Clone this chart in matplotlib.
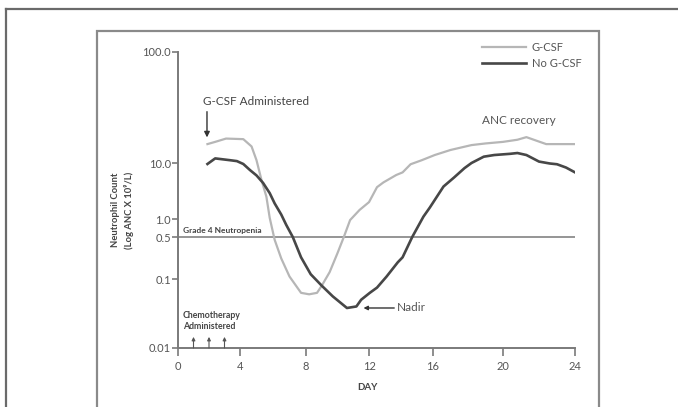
import numpy as np
import matplotlib
matplotlib.use("Agg")
import matplotlib.pyplot as plt
from matplotlib.patches import Rectangle
from matplotlib.lines import Line2D

plt.rcParams['font.family'] = ['Lato', 'DejaVu Sans']

# ---------------- data ----------------
gcsf_days = [1.9, 2.4, 3.1, 4.2, 4.7, 5.0, 5.3, 5.6, 5.8, 6.1, 6.5, 7.0, 7.7, 8.2, 8.7,
             9.0, 9.5, 10.0, 10.4, 10.8, 11.4, 12.0, 12.5, 12.9, 13.7, 14.1, 14.6, 15.3,
             16.1, 17.0, 18.2, 19.0, 20.0, 20.8, 21.3, 21.9, 22.4, 23.0, 24.0]
gcsf_anc = [14.8, 15.5, 16.6, 16.4, 14.1, 10.6, 5.0, 2.5, 1.05, 0.45, 0.22, 0.11, 0.063,
            0.06, 0.063, 0.08, 0.13, 0.27, 0.5, 0.96, 1.45, 2.0, 3.7, 4.5, 6.1, 6.8, 9.5,
            10.6, 11.8, 13.1, 14.5, 15.0, 15.5, 16.2, 17.1, 15.8, 14.8, 14.8, 14.8]

nogcsf_days = [1.9, 2.4, 3.35, 3.8, 4.2, 4.6, 5.0, 5.4, 5.8, 6.1, 6.5, 6.8, 7.2, 7.7, 8.3,
               9.0, 9.7, 10.6, 11.2, 11.5, 12.05, 12.5, 13.1, 13.8, 14.1, 14.7, 15.4, 15.8,
               16.6, 17.2, 17.8, 18.2, 18.9, 19.5, 20.4, 20.8, 21.3, 22.0, 22.6, 23.0, 23.5, 24.0]
nogcsf_anc = [9.6, 11.0, 10.6, 10.4, 9.6, 7.5, 6.0, 4.4, 2.9, 1.9, 1.2, 0.8, 0.5, 0.23, 0.12,
              0.08, 0.056, 0.038, 0.04, 0.05, 0.063, 0.075, 0.11, 0.19, 0.23, 0.5, 1.1, 1.6,
              3.8, 5.5, 8.1, 10.0, 11.4, 11.8, 12.1, 12.3, 11.8, 10.3, 9.8, 9.5, 8.3, 6.8]

series_labels = ['G-CSF', 'No G-CSF']
x_ticks = [0, 4, 8, 12, 16, 20, 24]
y_ticks = [0.01, 0.1, 0.5, 1.0, 10.0, 100.0]
y_ticklabels = ['0.01', '0.1', '0.5', '1.0', '10.0', '100.0']
grade4 = 0.5
chemo_days = [1, 2, 3]

# --------- irregular (hand-drawn) axis scales, piecewise linear ---------
X_BREAKS = np.array([0, 4, 8, 12, 16, 20, 24], float)
X_PIX = np.array([0, 62, 128, 191, 255, 325, 397], float)
Y_BREAKS = np.array([-2, -1, 0, 1, 2], float)
Y_PIX = np.array([0, 69, 129, 185, 296], float)


def pw(x, xp, fp):
    x = np.asarray(x, float)
    y = np.interp(x, xp, fp)
    lo = x < xp[0]
    hi = x > xp[-1]
    s0 = (fp[1] - fp[0]) / (xp[1] - xp[0])
    s1 = (fp[-1] - fp[-2]) / (xp[-1] - xp[-2])
    y = np.where(lo, fp[0] + (x - xp[0]) * s0, y)
    y = np.where(hi, fp[-1] + (x - xp[-1]) * s1, y)
    return y


def xf(d):
    return pw(d, X_BREAKS, X_PIX)


def xi(p):
    return pw(p, X_PIX, X_BREAKS)


def yf(v):
    v = np.asarray(v, float)
    return pw(np.log10(np.clip(v, 1e-9, None)), Y_BREAKS, Y_PIX)


def yi(p):
    return 10 ** pw(p, Y_PIX, Y_BREAKS)


W, H = 678, 407
fig = plt.figure(figsize=(W / 100, H / 100), dpi=100)
fig.patch.set_facecolor('white')

# frames
fig.add_artist(Line2D([6 / W, 1.0], [1 - 9 / H, 1 - 9 / H], color='#6a6a6a', lw=1.6,
                      transform=fig.transFigure))
fig.add_artist(Line2D([6 / W, 6 / W], [0, 1 - 9 / H], color='#6a6a6a', lw=1.6,
                      transform=fig.transFigure))
fig.add_artist(Rectangle((97 / W, -0.02), (599 - 97) / W, 1 - 31 / H + 0.02,
                         fill=False, ec='#8a8a8a', lw=1.6, transform=fig.transFigure))

ax = fig.add_axes([178 / W, (H - 348) / H, 397 / W, 296 / H])
ax.set_xscale('function', functions=(xf, xi))
ax.set_yscale('function', functions=(yf, yi))
ax.set_xlim(0, 24)
ax.set_ylim(0.01, 100)

ax.axhline(grade4, color='#8c8c8c', lw=1.3, xmin=0, xmax=1, zorder=1)
l1, = ax.plot(gcsf_days, gcsf_anc, color='#b6b6b6', lw=1.6, label=series_labels[0], zorder=3)
l2, = ax.plot(nogcsf_days, nogcsf_anc, color='#474747', lw=1.9, label=series_labels[1], zorder=4)

for s in ['top', 'right']:
    ax.spines[s].set_visible(False)
for s in ['left', 'bottom']:
    ax.spines[s].set_color('#7a7a7a')
    ax.spines[s].set_linewidth(1.4)

ax.set_xticks(x_ticks)
ax.set_xticklabels([str(t) for t in x_ticks])
ax.set_yticks(y_ticks)
ax.set_yticklabels(y_ticklabels)
ax.minorticks_off()
ax.tick_params(axis='x', length=6, width=1.2, color='#7a7a7a', labelsize=8,
               labelcolor='#555555', pad=3)
ax.tick_params(axis='y', length=4, width=1.2, color='#7a7a7a', labelsize=8,
               labelcolor='#555555', pad=1)

# legend
ax.legend(handles=[l1, l2], frameon=False, loc='upper left', fontsize=8,
          bbox_to_anchor=(482 / W, 1 - 42 / H), bbox_transform=fig.transFigure,
          borderpad=0, borderaxespad=0, handlelength=4.0, handletextpad=0.5,
          labelspacing=0.45, labelcolor='#555555')

# annotations
ax.text(1.6, 36, 'G-CSF Administered', fontsize=8.5, color='#444444', va='center', ha='left')
ax.annotate('', xy=(1.87, 17.0), xytext=(1.87, 29),
            arrowprops=dict(arrowstyle='-|>', color='#333333', lw=1.0,
                            mutation_scale=8, shrinkA=0, shrinkB=0))
ax.text(18.8, 24, 'ANC recovery', fontsize=8.5, color='#555555', va='center', ha='left')
ax.text(0.3, 0.56, 'Grade 4 Neutropenia', fontsize=6, fontweight='bold',
        color='#444444', va='bottom', ha='left')
ax.text(0.3, 0.0245, 'Chemotherapy\nAdministered', fontsize=6.3, fontweight='bold',
        color='#444444', va='center', ha='left', multialignment='left', linespacing=1.3)
for d in chemo_days:
    ax.annotate('', xy=(d, 0.0145), xytext=(d, 0.01),
                arrowprops=dict(arrowstyle='-|>', color='#555555', lw=0.8,
                                mutation_scale=5, shrinkA=0, shrinkB=0))
ax.annotate('Nadir', xy=(11.65, 0.038), xytext=(13.75, 0.038), fontsize=8.5,
            color='#555555', va='center', ha='left',
            arrowprops=dict(arrowstyle='-|>', color='#333333', lw=1.0,
                            mutation_scale=6, shrinkA=0, shrinkB=0))

fig.text(367 / W, 1 - 387 / H, 'DAY', fontsize=7, fontweight='bold', color='#444444',
         ha='center', va='center')
fig.text(123 / W, 1 - 210 / H, 'Neutrophil Count\n(Log ANC X 10⁹/L)', fontsize=6.8,
         fontweight='bold', color='#444444', rotation=90, ha='center', va='center',
         linespacing=1.5)

fig.savefig('out.png', dpi=100, facecolor='white')
